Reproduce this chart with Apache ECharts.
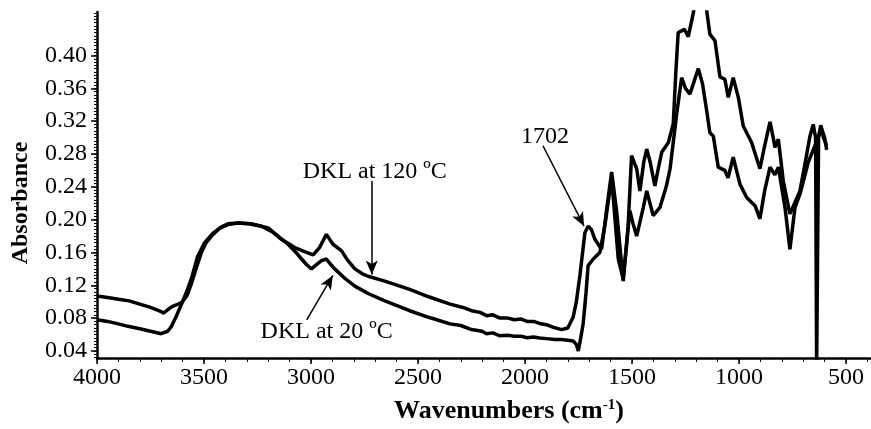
<!DOCTYPE html>
<html>
<head>
<meta charset="utf-8">
<script src="https://cdn.jsdelivr.net/npm/echarts@6/dist/echarts.min.js"></script>
<style>
html, body { margin: 0; padding: 0; background: #fff; }
#ftirChart { width: 871px; height: 429px; }
</style>
</head>
<body>
<div id="ftirChart"></div>
<script>
// tick labels
const xLabels = [4000, 3500, 3000, 2500, 2000, 1500, 1000, 500]
const yLabels = [0.04, 0.08, 0.12, 0.16, 0.20, 0.24, 0.28, 0.32, 0.36, 0.40]

// spectra: [wavenumber, absorbance]
const dkl120 = [
    [4000, 0.107], [3950, 0.105], [3900, 0.103], [3850, 0.101], [3800, 0.097], [3750, 0.093],
    [3700, 0.088], [3690, 0.086], [3670, 0.090], [3650, 0.094], [3630, 0.096], [3605, 0.099],
    [3580, 0.107], [3560, 0.121], [3535, 0.142], [3512, 0.160], [3490, 0.172], [3465, 0.180],
    [3430, 0.189], [3388, 0.194], [3341, 0.196], [3290, 0.195], [3231, 0.192], [3180, 0.185],
    [3138, 0.176], [3076, 0.166], [3030, 0.161], [2990, 0.157], [2960, 0.166], [2928, 0.182],
    [2910, 0.175], [2897, 0.170], [2857, 0.162], [2830, 0.151], [2795, 0.140], [2760, 0.134],
    [2733, 0.131], [2655, 0.125], [2539, 0.115], [2450, 0.106], [2350, 0.097], [2290, 0.093],
    [2250, 0.089], [2210, 0.087], [2180, 0.083], [2150, 0.084], [2117, 0.080], [2080, 0.080],
    [2050, 0.078], [2020, 0.079], [1990, 0.076], [1960, 0.076], [1932, 0.0735], [1900, 0.072],
    [1870, 0.069], [1829, 0.066], [1800, 0.068], [1775, 0.081], [1760, 0.100], [1743, 0.1325],
    [1720, 0.184], [1705, 0.192], [1690, 0.188], [1673, 0.176], [1642, 0.164], [1619, 0.211],
    [1595, 0.258], [1572, 0.211], [1541, 0.125], [1518, 0.192], [1502, 0.278], [1490, 0.270],
    [1478, 0.262], [1463, 0.235], [1445, 0.270], [1431, 0.286], [1415, 0.270], [1393, 0.241],
    [1375, 0.265], [1361, 0.282], [1330, 0.294], [1307, 0.317], [1295, 0.380], [1284, 0.428],
    [1268, 0.430], [1255, 0.432], [1237, 0.423], [1214, 0.451], [1195, 0.480], [1165, 0.480],
    [1151, 0.455], [1136, 0.426], [1112, 0.418], [1089, 0.374], [1066, 0.371], [1050, 0.349],
    [1042, 0.348], [1027, 0.373], [1003, 0.349], [980, 0.314], [941, 0.294], [902, 0.262],
    [880, 0.290], [855, 0.319], [840, 0.300], [832, 0.288], [816, 0.298], [793, 0.247],
    [762, 0.207], [740, 0.220], [715, 0.235], [690, 0.270], [668, 0.302], [653, 0.316],
    [642, 0.300], [637, 0.020], [633, 0.020], [628, 0.300], [618, 0.315], [605, 0.300], [590, 0.290]
]
const dkl20 = [
    [4000, 0.078], [3950, 0.076], [3900, 0.073], [3855, 0.070], [3800, 0.067], [3750, 0.064],
    [3700, 0.061], [3691, 0.061], [3670, 0.064], [3652, 0.070], [3630, 0.082], [3605, 0.097],
    [3580, 0.113], [3559, 0.128], [3530, 0.155], [3497, 0.172], [3460, 0.183], [3420, 0.191],
    [3388, 0.195], [3341, 0.196], [3280, 0.195], [3200, 0.190], [3150, 0.179], [3107, 0.170],
    [3070, 0.160], [3044, 0.152], [3020, 0.145], [2998, 0.140], [2970, 0.146], [2951, 0.150],
    [2928, 0.152], [2910, 0.146], [2889, 0.140], [2840, 0.128], [2795, 0.119], [2733, 0.110],
    [2655, 0.101], [2539, 0.089], [2450, 0.081], [2350, 0.073], [2300, 0.071], [2250, 0.066],
    [2200, 0.064], [2180, 0.061], [2150, 0.062], [2119, 0.0585], [2080, 0.059], [2050, 0.058],
    [2020, 0.058], [1990, 0.056], [1960, 0.057], [1932, 0.0558], [1900, 0.055], [1860, 0.054],
    [1830, 0.054], [1800, 0.053], [1775, 0.052], [1760, 0.048], [1751, 0.040], [1740, 0.055],
    [1728, 0.0735], [1715, 0.110], [1705, 0.144], [1681, 0.152], [1650, 0.160], [1627, 0.192],
    [1595, 0.251], [1564, 0.152], [1541, 0.128], [1525, 0.170], [1510, 0.211], [1495, 0.195],
    [1478, 0.180], [1447, 0.215], [1431, 0.235], [1401, 0.205], [1369, 0.215], [1340, 0.240],
    [1322, 0.262], [1291, 0.329], [1268, 0.373], [1250, 0.360], [1229, 0.353], [1190, 0.384],
    [1170, 0.365], [1151, 0.333], [1136, 0.306], [1120, 0.302], [1097, 0.264], [1066, 0.260],
    [1051, 0.251], [1027, 0.276], [995, 0.243], [964, 0.227], [925, 0.217], [902, 0.201],
    [880, 0.235], [855, 0.264], [832, 0.2545], [816, 0.264], [785, 0.215], [762, 0.164],
    [738, 0.215], [715, 0.231], [676, 0.270], [645, 0.290], [630, 0.300], [615, 0.312],
    [600, 0.300], [590, 0.285]
]

// annotations: text at [wavenumber, absorbance], arrow from -> to
const notes = [
    { text: 'DKL at 120 ºC', at: [2702, 0.259], from: [2716, 0.247], to: [2716, 0.133] },
    { text: 'DKL at 20 ºC', at: [2927, 0.064], from: [3020, 0.078], to: [2898, 0.132] },
    { text: '1702', at: [1907, 0.301], from: [1916, 0.290], to: [1724, 0.192] }
]

const font = 'Liberation Serif'

// minor ticks
let xMinor = []
for (let w = 4000; w >= 400; w -= 100) xMinor.push(w)
let yMinor = []
for (let i = 8; i <= 113; i++) yMinor.push(+(i * 0.004).toFixed(3))

let chart = echarts.init(document.getElementById('ftirChart'))
let option = {
    animation: false,
    grid: { left: 97, right: 0, top: 12, bottom: 60 },
    xAxis: [
        {
            type: 'value',
            inverse: true,
            min: 383,
            max: 4000,
            position: 'bottom',
            axisLine: { lineStyle: { color: '#000', width: 2.5 } },
            axisTick: { customValues: xLabels, length: 6, lineStyle: { color: '#000', width: 1.5 } },
            axisLabel: {
                customValues: xLabels,
                formatter: v => String(v),
                color: '#000',
                fontFamily: font,
                fontSize: 24,
                margin: 8
            },
            splitLine: { show: false },
            name: 'Wavenumbers (cm{sup|-1})',
            nameLocation: 'middle',
            nameGap: 40,
            nameTextStyle: {
                color: '#000',
                fontFamily: font,
                fontSize: 26,
                fontWeight: 'bold',
                padding: [0, 0, 0, 50],
                rich: {
                    sup: { fontFamily: font, fontSize: 15, fontWeight: 'bold', color: '#000', verticalAlign: 'top', padding: [0, 0, 10, 0] }
                }
            }
        },
        {
            type: 'value',
            inverse: true,
            min: 383,
            max: 4000,
            position: 'bottom',
            axisLine: { show: false },
            axisTick: { customValues: xMinor, length: 4, lineStyle: { color: '#000', width: 1 } },
            axisLabel: { show: false },
            splitLine: { show: false }
        }
    ],
    yAxis: [
        {
            type: 'value',
            min: 0.0314,
            max: 0.453,
            axisLine: { show: true, lineStyle: { color: '#000', width: 2.5 } },
            axisTick: { show: true, customValues: yLabels, length: 6, lineStyle: { color: '#000', width: 1.5 } },
            axisLabel: {
                customValues: yLabels,
                formatter: v => v.toFixed(2),
                color: '#000',
                fontFamily: font,
                fontSize: 24,
                margin: 10
            },
            splitLine: { show: false },
            name: 'Absorbance',
            nameLocation: 'middle',
            nameGap: 64,
            nameTextStyle: { color: '#000', fontFamily: font, fontSize: 24, fontWeight: 'bold', padding: [0, 36, 0, 0] }
        },
        {
            type: 'value',
            min: 0.0314,
            max: 0.453,
            position: 'left',
            axisLine: { show: false },
            axisTick: { show: true, customValues: yMinor, length: 3, lineStyle: { color: '#000', width: 1 } },
            axisLabel: { show: false },
            splitLine: { show: false }
        }
    ],
    series: [
        {
            name: 'DKL at 120 ºC',
            type: 'line',
            data: dkl120,
            showSymbol: false,
            lineStyle: { color: '#000', width: 3.5 },
            markLine: {
                silent: true,
                symbol: ['none', 'arrow'],
                symbolSize: [9, 14],
                lineStyle: { color: '#000', width: 1.5, type: 'solid' },
                label: { show: false },
                data: notes.map(n => [{ coord: n.from }, { coord: n.to }])
            }
        },
        {
            name: 'DKL at 20 ºC',
            type: 'line',
            data: dkl20,
            showSymbol: false,
            lineStyle: { color: '#000', width: 3.5 }
        }
    ]
}
chart.setOption(option)

// annotation text placed through the axes
chart.setOption({
    graphic: notes.map(n => {
        let p = chart.convertToPixel({ xAxisIndex: 0, yAxisIndex: 0 }, n.at)
        return {
            type: 'text',
            x: p[0],
            y: p[1],
            style: {
                text: n.text,
                font: '24px "Liberation Serif"',
                fill: '#000',
                align: 'center',
                verticalAlign: 'middle'
            }
        }
    })
})

window.onresize = function() {
    chart.resize()
}
</script>
</body>
</html>
